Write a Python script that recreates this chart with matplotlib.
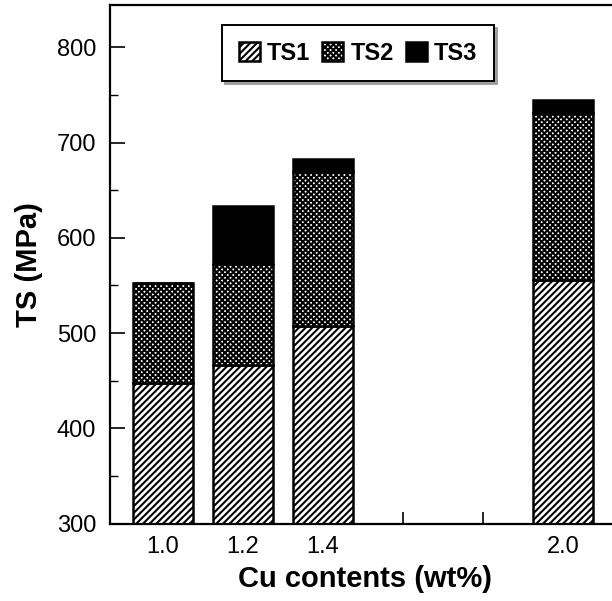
import numpy as np
import matplotlib.pyplot as plt
from matplotlib.ticker import MultipleLocator

plt.rcParams['font.family'] = ['Liberation Sans', 'DejaVu Sans']
plt.rcParams['hatch.linewidth'] = 1.5

cu = [1.0, 1.2, 1.4, 2.0]
ts1 = [448, 467, 507, 556]
ts2 = [105, 106, 162, 175]
ts3 = [0, 60, 14, 14]

W, H = 612, 601
fig = plt.figure(figsize=(W / 100, H / 100), dpi=100)
ax = fig.add_axes([110 / W, 77.3 / H, 510 / W, 518.7 / H])

bw = 0.15
base = np.full(len(cu), 300.0)
b1 = ax.bar(cu, np.array(ts1) - 300, bw, bottom=base, color='white',
            edgecolor='black', hatch='/////', linewidth=1.8, label='TS1', zorder=2)
b2 = ax.bar(cu, ts2, bw, bottom=ts1, color='white', edgecolor='black',
            hatch='xxxxxx', linewidth=1.8, label='TS2', zorder=2)
b3 = ax.bar(cu, ts3, bw, bottom=np.array(ts1) + np.array(ts2), color='black',
            edgecolor='black', linewidth=1.8, label='TS3', zorder=2)

ax.set_xlim(0.8675, 0.8675 + 510 / 400)
ax.set_ylim(300, 300 + 518.7 / 0.953)

ax.set_xticks([1.0, 1.2, 1.4, 1.6, 1.8, 2.0])
ax.set_xticklabels(['1.0', '1.2', '1.4', '', '', '2.0'])
ax.yaxis.set_major_locator(MultipleLocator(100))
ax.yaxis.set_minor_locator(MultipleLocator(50))
ax.tick_params(axis='both', which='major', direction='in', length=11, width=1.2,
               labelsize=17, pad=10)
ax.tick_params(axis='y', which='minor', direction='in', length=6, width=1.0)
ax.tick_params(axis='x', which='major', length=9, pad=9)

for s in ax.spines.values():
    s.set_linewidth(1.6)

ax.set_xlabel('Cu contents (wt%)', fontsize=21, fontweight='bold', labelpad=5)
ax.set_ylabel('TS (MPa)', fontsize=21, fontweight='bold', labelpad=10)

leg = ax.legend(loc='upper center', bbox_to_anchor=(248 / 510, 1 - 20 / 518.7),
                borderaxespad=0, ncol=3, frameon=True, fancybox=False,
                edgecolor='black', prop={'weight': 'bold', 'size': 17},
                handlelength=0.9, handleheight=0.9, handletextpad=0.3,
                columnspacing=0.5, borderpad=0.7,
                shadow={'color': '0.6', 'alpha': 0.9})
leg.get_frame().set_linewidth(1.4)

fig.savefig('out.png', dpi=100)
